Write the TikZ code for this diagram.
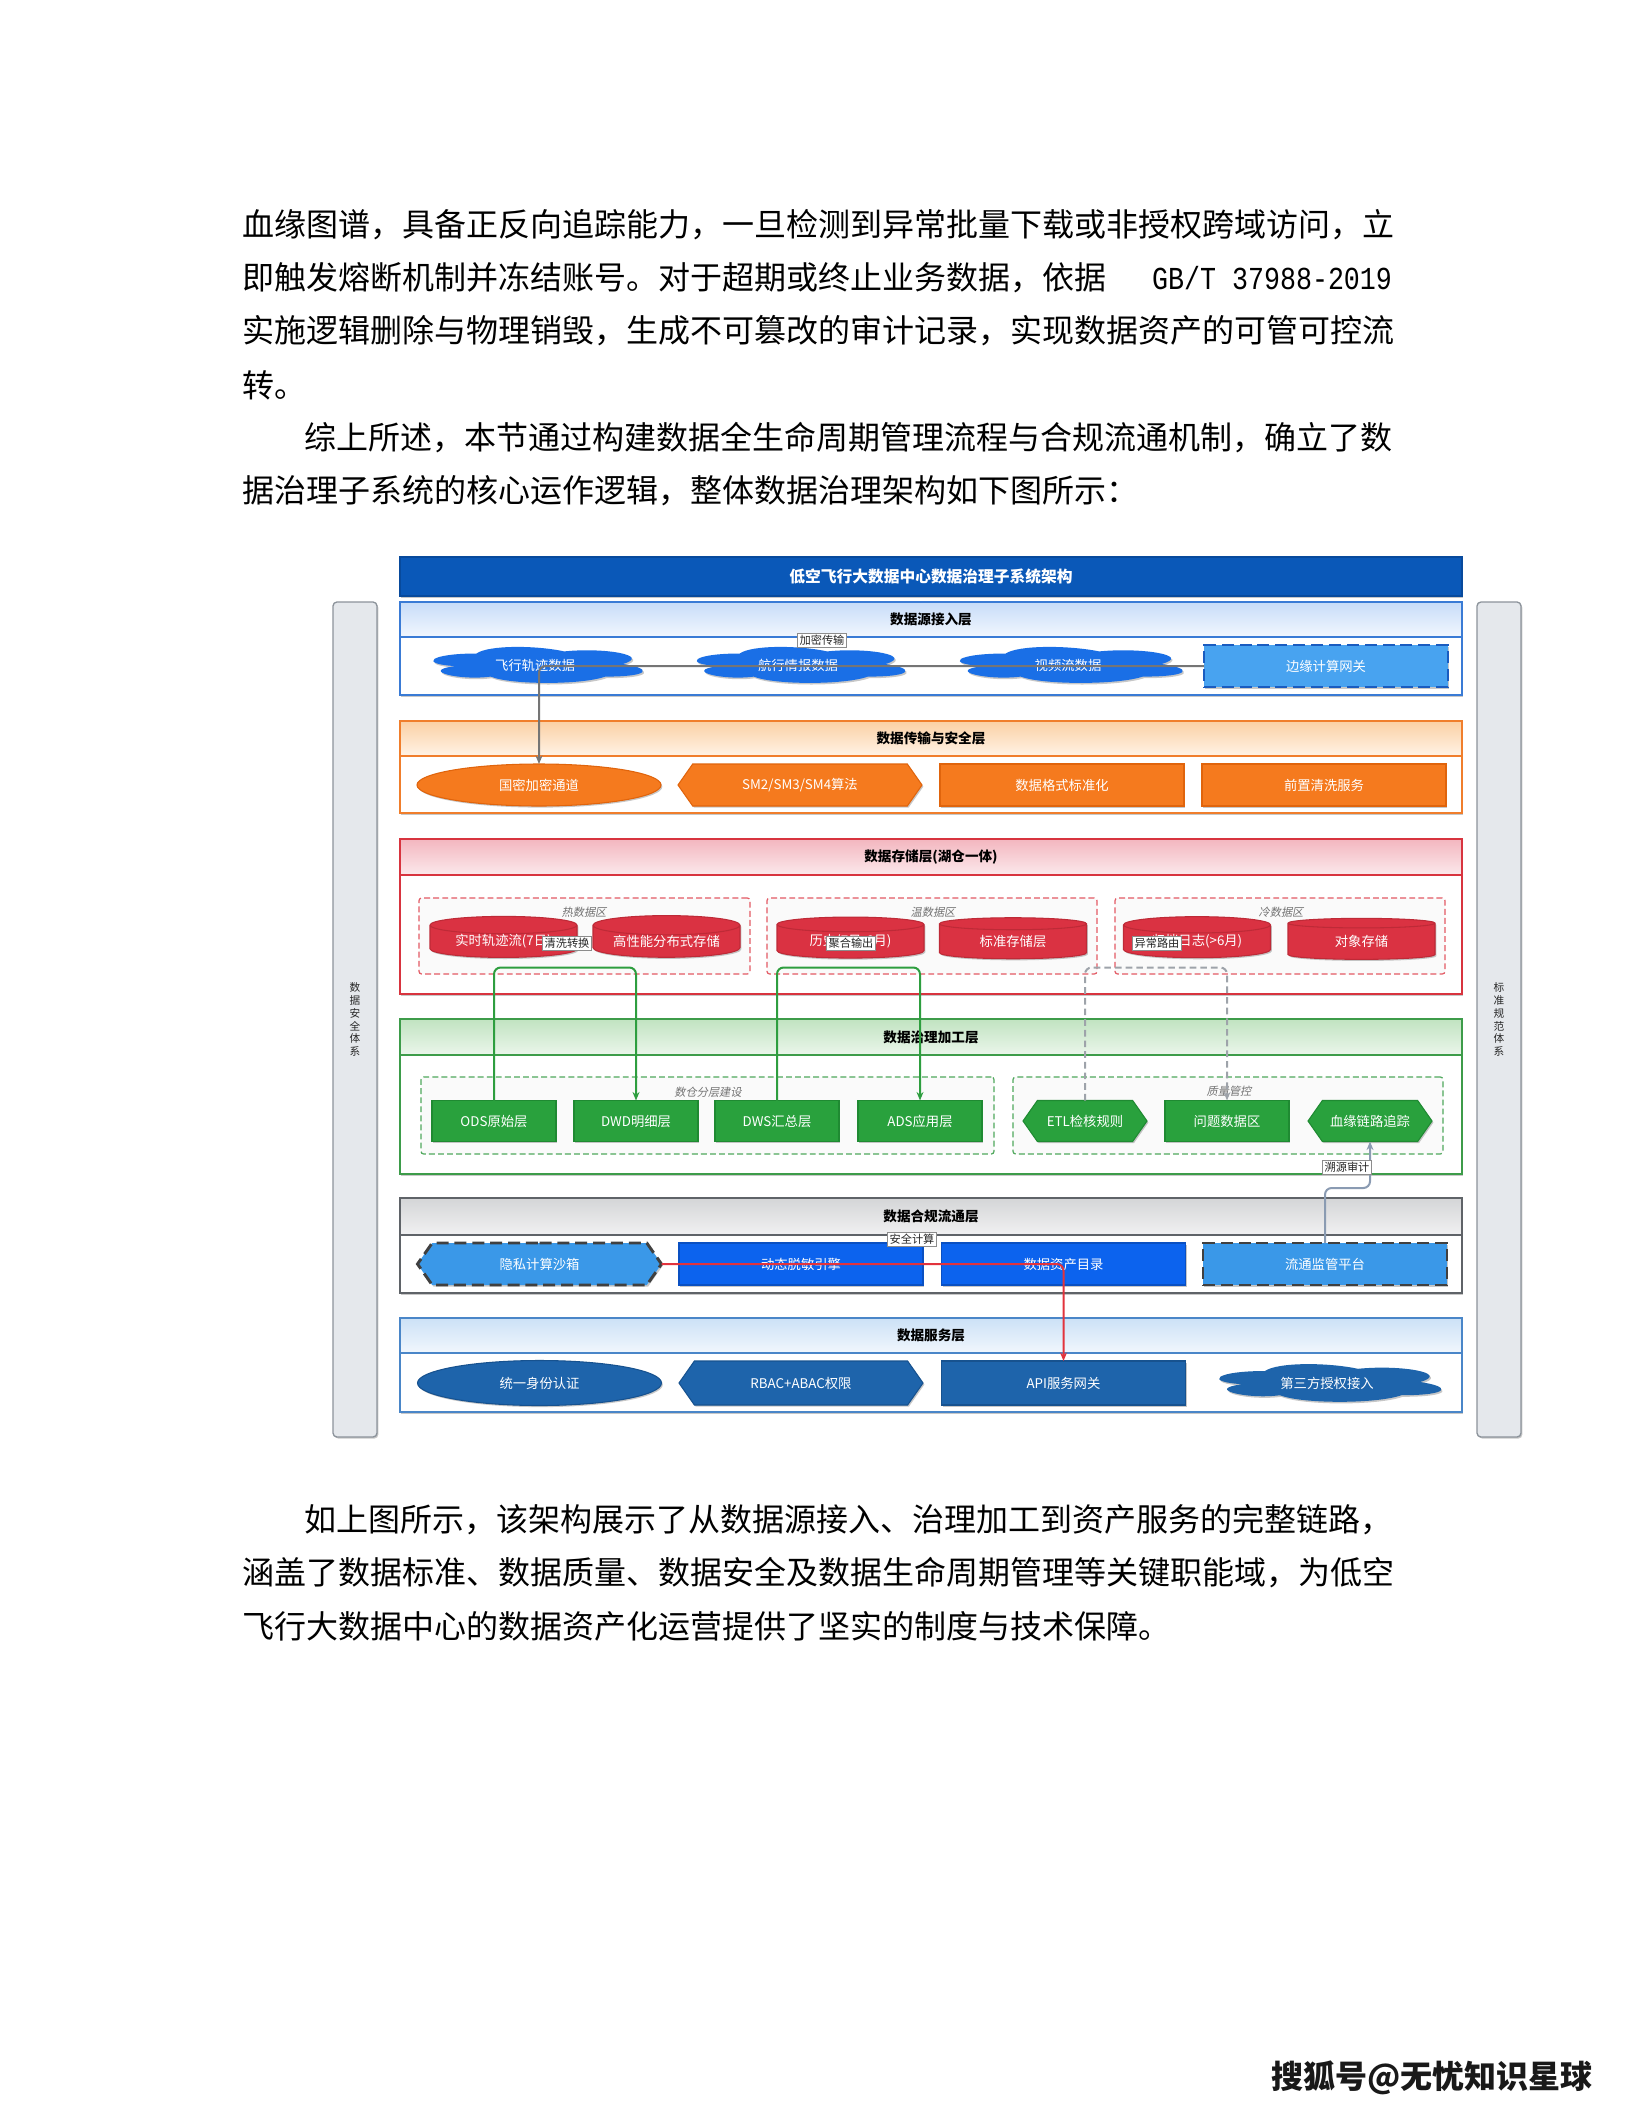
\documentclass[tikz,border=0pt]{standalone}
\usepackage{fontspec}
\setmainfont{Noto Sans CJK SC}
\newfontfamily\cjkit[FakeSlant=0.2]{Noto Sans CJK SC}
\newfontfamily\monofnt[FakeStretch=0.833]{Liberation Mono}
\usetikzlibrary{shapes.geometric,shapes.symbols,arrows.meta,shadows}
\newdimen\px \px=0.375pt
\definecolor{ttlblue}{HTML}{0A58B8}
\definecolor{ttlborder}{HTML}{084A9C}
\definecolor{l1border}{HTML}{3A7BD5}
\definecolor{l1top}{HTML}{C7DCF8}
\definecolor{l1bot}{HTML}{F2F7FE}
\definecolor{cloudblue}{HTML}{1A6FE6}
\definecolor{gwfill}{HTML}{48A3F0}
\definecolor{gwborder}{HTML}{1A5CC0}
\definecolor{l2border}{HTML}{F07E2C}
\definecolor{l2top}{HTML}{FBD0A4}
\definecolor{l2bot}{HTML}{FFF3E6}
\definecolor{orfill}{HTML}{F57A1E}
\definecolor{orborder}{HTML}{E0640C}
\definecolor{l3border}{HTML}{D8343F}
\definecolor{l3top}{HTML}{F3B6BF}
\definecolor{l3bot}{HTML}{FCE9EC}
\definecolor{cylred}{HTML}{DA3242}
\definecolor{cylborder}{HTML}{BE2A37}
\definecolor{zonered}{HTML}{E35A64}
\definecolor{l4border}{HTML}{3D9C4A}
\definecolor{l4top}{HTML}{C1E3C1}
\definecolor{l4bot}{HTML}{EBF6EB}
\definecolor{grfill}{HTML}{29A13D}
\definecolor{grborder}{HTML}{1F8A32}
\definecolor{zonegreen}{HTML}{4FA85C}
\definecolor{l5border}{HTML}{5F6368}
\definecolor{l5top}{HTML}{D4D5D7}
\definecolor{l5bot}{HTML}{F1F1F2}
\definecolor{sbfill}{HTML}{3A98E8}
\definecolor{dmfill}{HTML}{0C63EE}
\definecolor{dmborder}{HTML}{0A50C2}
\definecolor{l6border}{HTML}{4A86C8}
\definecolor{l6top}{HTML}{CCE1F6}
\definecolor{l6bot}{HTML}{F1F7FD}
\definecolor{svfill}{HTML}{1E64AB}
\definecolor{svborder}{HTML}{17528F}
\definecolor{sidefill}{HTML}{E5E8EC}
\definecolor{sideborder}{HTML}{8C939B}
\definecolor{linegray}{HTML}{757575}
\definecolor{lineblue}{HTML}{8A9BB2}
\definecolor{linegreen}{HTML}{2E9E3F}
\definecolor{linered}{HTML}{E2333C}
\definecolor{dashgray}{HTML}{9EA3AA}
\tikzset{
  every node/.style={inner sep=0pt, outer sep=0pt},
  para/.style={anchor=west, font=\fontsize{12}{14}\selectfont},
  shad/.style={drop shadow={shadow xshift=0.5pt, shadow yshift=-0.6pt, opacity=0.22, fill=black}},
  cont/.style={anchor=north west, minimum width=1062*\px, fill=white, line width=0.55pt, shad},
  head/.style={anchor=north west, minimum width=1062*\px, minimum height=35*\px, line width=0.55pt, font=\fontsize{5.1}{6}\selectfont\bfseries},
  nbox/.style={minimum width=244*\px, minimum height=42*\px, text=white, font=\fontsize{5}{6}\selectfont, line width=0.4pt, shad},
  cloudtext/.style={text=white, font=\fontsize{5}{6}\selectfont},
  ell/.style={nbox, ellipse},
  hexa/.style={nbox, signal, signal to=west and east, signal pointer angle=110},
  cyl/.style={nbox, cylinder, shape border rotate=90, aspect=0.18, minimum width=147*\px, minimum height=41*\px, fill=cylred, draw=cylborder},
  sbox/.style={nbox, minimum width=124*\px, minimum height=41*\px, fill=grfill, draw=grborder},
  zone/.style={anchor=north west, rounded corners=1pt, line width=0.45pt, dash pattern=on 2.2pt off 1.2pt, fill=black!2},
  zlabel/.style={font=\cjkit\fontsize{4.2}{5}\selectfont, text=black!55},
  elabel/.style={fill=white, draw=black!45, line width=0.3pt, font=\fontsize{4.2}{5}\selectfont, text=black!85, inner sep=0.7pt},
  conn/.style={line width=0.75pt, rounded corners=2.5pt, -{Stealth[length=3.2pt,width=2.6pt]}},
  side/.style={anchor=north west, minimum width=44*\px, minimum height=835*\px, rounded corners=1.5pt, fill=sidefill, draw=sideborder, line width=0.5pt, shad, font=\fontsize{4}{4.8}\selectfont, text=black!85, align=center},
  dashedge/.style={dash pattern=on 4.5pt off 2.2pt, line width=1.1pt}
}
% cloud: name, cx, cy, w, h, colour, text
\newcommand\drawcloud[7]{%
  \fill[#6, shad, shift={(#2-#4/2,#3-#5/2)}, x={(#4*\px,0pt)}, y={(0pt,-#5*\px)}]
    (0.25,0.25) .. controls (0.05,0.25) and (0,0.5) .. (0.16,0.55)
    .. controls (0,0.66) and (0.18,0.9) .. (0.31,0.8)
    .. controls (0.4,1) and (0.7,1) .. (0.8,0.8)
    .. controls (1,0.8) and (1,0.6) .. (0.875,0.5)
    .. controls (1,0.3) and (0.8,0.1) .. (0.625,0.2)
    .. controls (0.5,0.05) and (0.3,0.05) .. (0.25,0.25) -- cycle;
  \node[cloudtext, minimum width=#4*0.8*\px, minimum height=#5*0.8*\px] (#1) at (#2,#3+1) {#7};
}
\begin{document}
\begin{tikzpicture}[x=0.375pt, y=-0.375pt]
\useasboundingbox (0,0) rectangle (1632,2112);
\fill[white] (0,0) rectangle (1632,2112);

% ---------- body text ----------
\node[para] (p1a) at (242,225) {血缘图谱，具备正反向追踪能力，一旦检测到异常批量下载或非授权跨域访问，立};
\node[para] (p1b) at (242,278) {即触发熔断机制并冻结账号。对于超期或终止业务数据，依据};
\node[anchor=east, font=\monofnt\fontsize{12}{14}\selectfont] (p1c) at (1392,278) {GB/T 37988-2019};
\node[para] (p1d) at (242,331) {实施逻辑删除与物理销毁，生成不可篡改的审计记录，实现数据资产的可管可控流};
\node[para] (p1e) at (242,385) {转。};
\node[para] (p2a) at (304,438) {综上所述，本节通过构建数据全生命周期管理流程与合规流通机制，确立了数};
\node[para] (p2b) at (242,491) {据治理子系统的核心运作逻辑，整体数据治理架构如下图所示：};
\node[para] (p3a) at (304,1520) {如上图所示，该架构展示了从数据源接入、治理加工到资产服务的完整链路，};
\node[para] (p3b) at (242,1573) {涵盖了数据标准、数据质量、数据安全及数据生命周期管理等关键职能域，为低空};
\node[para] (p3c) at (242,1626) {飞行大数据中心的数据资产化运营提供了坚实的制度与技术保障。};

% ---------- side bars ----------
\node[side] (secsys) at (333,602) {数\\据\\安\\全\\体\\系};
\node[side] (stdsys) at (1477,602) {标\\准\\规\\范\\体\\系};

% ---------- title ----------
\node[anchor=north west, minimum width=1062*\px, minimum height=39*\px, fill=ttlblue, draw=ttlborder, line width=0.5pt, text=white, font=\fontsize{5.9}{7}\selectfont\bfseries, shad] (title) at (400,557) {低空飞行大数据中心数据治理子系统架构};

% ---------- layer containers ----------
\node[cont, draw=l1border, minimum height=93*\px] (L1) at (400,602) {};
\node[head, draw=l1border, top color=l1top, bottom color=l1bot] (H1) at (400,602) {数据源接入层};
\node[cont, draw=l2border, minimum height=92*\px] (L2) at (400,721) {};
\node[head, draw=l2border, top color=l2top, bottom color=l2bot] (H2) at (400,721) {数据传输与安全层};
\node[cont, draw=l3border, minimum height=155*\px] (L3) at (400,839) {};
\node[head, draw=l3border, top color=l3top, bottom color=l3bot, minimum height=36*\px] (H3) at (400,839) {数据存储层(湖仓一体)};
\node[cont, draw=l4border, minimum height=155*\px] (L4) at (400,1019) {};
\node[head, draw=l4border, top color=l4top, bottom color=l4bot, minimum height=36*\px] (H4) at (400,1019) {数据治理加工层};
\node[cont, draw=l5border, minimum height=95*\px] (L5) at (400,1198) {};
\node[head, draw=l5border, top color=l5top, bottom color=l5bot, minimum height=37*\px] (H5) at (400,1198) {数据合规流通层};
\node[cont, draw=l6border, minimum height=94*\px] (L6) at (400,1318) {};
\node[head, draw=l6border, top color=l6top, bottom color=l6bot] (H6) at (400,1318) {数据服务层};

% ---------- layer 1 ----------
\drawcloud{s1}{535}{664}{234}{42}{cloudblue}{飞行轨迹数据}
\drawcloud{s2}{798}{664}{233}{42}{cloudblue}{航行情报数据}
\drawcloud{s3}{1068}{664}{249}{42}{cloudblue}{视频流数据}
\node[nbox, fill=gwfill, draw=gwborder, dashedge] (gw) at (1326,666) {边缘计算网关};

% ---------- layer 2 ----------
\node[ell, fill=orfill, draw=orborder] (gm) at (539,785) {国密加密通道};
\node[hexa, fill=orfill, draw=orborder] (sm) at (800,785) {SM2/SM3/SM4算法};
\node[nbox, fill=orfill, draw=orborder] (fmt) at (1062,785) {数据格式标准化};
\node[nbox, fill=orfill, draw=orborder] (cln) at (1324,785) {前置清洗服务};

% ---------- layer 3 ----------
\node[zone, draw=zonered, minimum width=331*\px, minimum height=76*\px] (zhot) at (419,898) {};
\node[zone, draw=zonered, minimum width=330*\px, minimum height=76*\px] (zwarm) at (767,898) {};
\node[zone, draw=zonered, minimum width=330*\px, minimum height=76*\px] (zcold) at (1115,898) {};
\node[zlabel] (zhotl) at (584,912) {热数据区};
\node[zlabel] (zwarml) at (933,912) {温数据区};
\node[zlabel] (zcoldl) at (1281,912) {冷数据区};
\node[cyl] (c1) at (503.5,941.5) {实时轨迹流(7日)};
\node[cyl] (c2) at (666.5,941.5) {高性能分布式存储};
\node[cyl] (c3) at (850.5,941.5) {历史(7日-6月)};
\node[cyl] (c4) at (1013,941.5) {标准存储层};
\node[cyl] (c5) at (1197,941.5) {归档日志(>6月)};
\node[cyl] (c6) at (1361.5,941.5) {对象存储};

% ---------- layer 4 ----------
\node[zone, draw=zonegreen, minimum width=573*\px, minimum height=77*\px] (zdw) at (421,1077) {};
\node[zone, draw=zonegreen, minimum width=430*\px, minimum height=77*\px] (zqc) at (1013,1077) {};
\node[zlabel] (zdwl) at (708,1092) {数仓分层建设};
\node[zlabel] (zqcl) at (1229,1091) {质量管控};
\node[sbox] (ods) at (494,1121) {ODS原始层};
\node[sbox] (dwd) at (636,1121) {DWD明细层};
\node[sbox] (dws) at (777,1121) {DWS汇总层};
\node[sbox] (ads) at (920,1121) {ADS应用层};
\node[hexa, minimum width=124*\px, minimum height=41*\px, fill=grfill, draw=grborder] (etl) at (1085,1121) {ETL检核规则};
\node[sbox] (iss) at (1227,1121) {问题数据区};
\node[hexa, minimum width=124*\px, minimum height=41*\px, fill=grfill, draw=grborder] (lin) at (1370,1121) {血缘链路追踪};

% ---------- layer 5 ----------
\node[hexa, fill=sbfill, draw=black!75, dashedge] (sbx) at (539.5,1264) {隐私计算沙箱};
\node[nbox, fill=dmfill, draw=dmborder] (dme) at (801,1264) {动态脱敏引擎};
\node[nbox, fill=dmfill, draw=dmborder] (cat) at (1063.5,1264) {数据资产目录};
\node[nbox, fill=sbfill, draw=black!75, dashedge] (mon) at (1325,1264) {流通监管平台};

% ---------- layer 6 ----------
\node[ell, fill=svfill, draw=svborder, minimum height=45*\px] (auth) at (539.5,1383) {统一身份认证};
\node[hexa, fill=svfill, draw=svborder, minimum height=44*\px] (rbac) at (801,1383) {RBAC+ABAC权限};
\node[nbox, fill=svfill, draw=svborder, minimum height=44*\px] (api) at (1063.5,1383) {API服务网关};
\drawcloud{third}{1327}{1382}{248}{44}{svfill}{第三方授权接入}

% ---------- connectors ----------
\draw[conn, linegray] (gw.west) -| (gm.north);
\node[elabel] (lb1) at (822,640) {加密传输};
\draw[conn, linegreen] (ods.north) -- ++(0,-133) -| (dwd.north);
\node[elabel] (lb2) at (567,943) {清洗转换};
\draw[conn, linegreen] (dws.north) -- ++(0,-133) -| (ads.north);
\node[elabel] (lb3) at (851,943) {聚合输出};
\draw[conn, dashgray, dash pattern=on 2.5pt off 1.5pt] (etl.north) -- ++(0,-133) -| (iss.north);
\node[elabel] (lb4) at (1157,943) {异常路由};
\draw[conn, lineblue] (mon.north) -- ++(0,-55) -| (lin.south);
\node[elabel] (lb5) at (1347,1167) {溯源审计};
\draw[conn, linered] (sbx.east) -| (api.north);
\node[elabel] (lb6) at (912,1239) {安全计算};

% ---------- footer ----------
\node[font=\fontsize{12}{14}\selectfont\bfseries, text=black!90] (foot) at (1432,2078) {搜狐号@无忧知识星球};
\end{tikzpicture}
\end{document}
